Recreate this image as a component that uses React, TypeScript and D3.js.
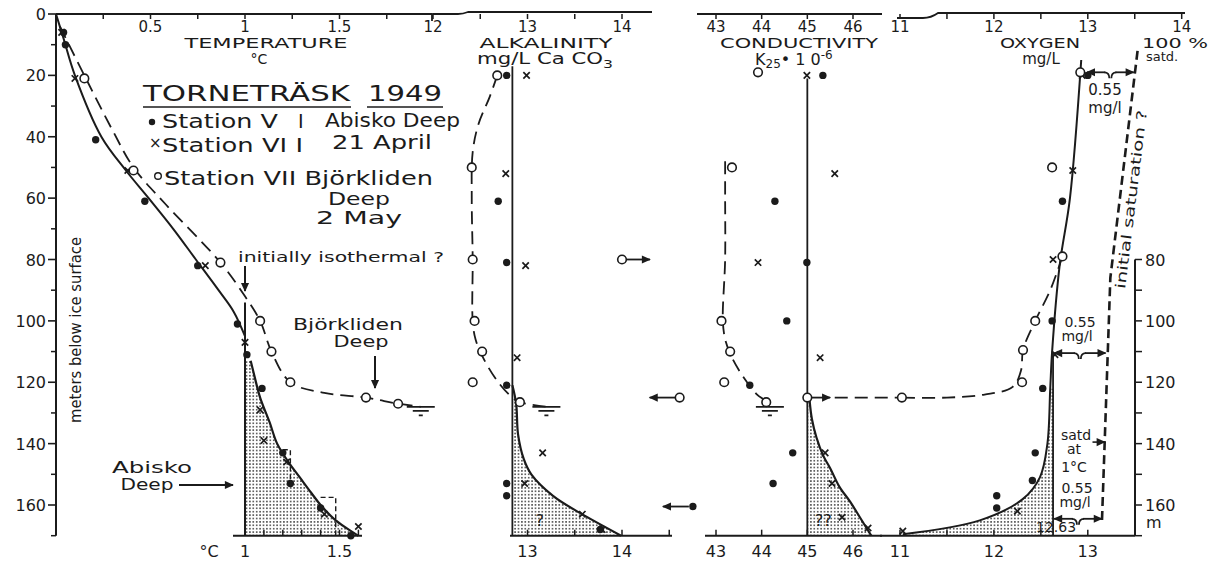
import React from "react";
import * as d3 from "d3";

const width = 1211;
const height = 565;
const ink = "#1b1b1b";
const font = "'DejaVu Sans', 'Liberation Sans', sans-serif";

// depth axis, metres below ice surface
const depthLabels = [0, 20, 40, 60, 80, 100, 120, 140, 160];
const depthMinor = [10, 30, 50, 70, 90, 110, 130, 150, 170];
const oxyDepthTicks = [80, 90, 100, 110, 120, 130, 140, 150, 160, 170];
const oxyDepthLabels = [80, 100, 120, 140, 160];

// tick values for the four panels
const tempTopTicks = [0.25, 0.5, 0.75, 1, 1.25, 1.5, 1.75];
const tempTopLabels = [0.5, 1, 1.5];
const tempBottomTicks = [1, 1.1, 1.2, 1.3, 1.4, 1.5, 1.6];
const alkTopTicks = [12, 12.5, 13, 13.5, 14];
const alkLabels = [12, 13, 14];
const alkBottomTicks = [13, 13.5, 14, 14.5];
const condTicks = [43, 44, 45, 46];
const oxyTopTicks = [11, 11.5, 12, 12.5, 13, 13.5, 14];
const oxyTopLabels = [11, 12, 13, 14];
const oxyBottomTicks = [11, 11.5, 12, 12.5, 13];
const oxyBottomLabels = [11, 12, 13];

// temperature [°C, depth]
const tempStationV = [[0.04, 6], [0.05, 10], [0.21, 41], [0.47, 61], [0.75, 82], [0.96, 101], [1.01, 111], [1.09, 122], [1.2, 143], [1.24, 153], [1.4, 161], [1.56, 170]];
const tempStationVII = [[0.03, 6], [0.1, 21], [0.38, 51], [0.79, 82], [1.0, 107], [1.08, 129], [1.1, 139], [1.22, 146], [1.42, 163], [1.6, 167]];
const tempBjorkliden = [[0.15, 21], [0.41, 51], [0.87, 81], [1.08, 100], [1.14, 110], [1.24, 120], [1.64, 125], [1.81, 127]];
const tempCurveUpper = [[0, 0], [0.04, 8], [0.1, 20], [0.24, 40], [0.37, 51], [0.49, 60], [0.62, 70], [0.74, 80], [0.86, 90], [0.94, 97], [1.0, 105]];
const tempCurveLower = [[1.03, 113], [1.05, 118], [1.08, 125], [1.13, 133], [1.17, 140], [1.23, 146], [1.29, 151], [1.35, 156], [1.4, 160], [1.48, 165], [1.6, 170]];
const tempDashCurve = [[0.02, 4], [0.15, 20], [0.3, 38], [0.41, 50], [0.58, 62], [0.87, 81], [1.0, 92], [1.08, 100], [1.14, 110], [1.24, 120], [1.42, 123.5], [1.64, 125], [1.81, 127], [1.93, 128]];
const tempIsoLine = [[1, 94], [1, 170]];
const tempBoxes = [[[1.2, 142], [1.24, 142], [1.24, 154]], [[1.4, 157.5], [1.48, 157.5], [1.48, 170]]];

// alkalinity [mg/L CaCO3, depth]
const alkStationV = [[12.78, 20], [12.69, 61], [12.78, 81], [12.78, 121], [12.78, 153], [12.78, 157], [13.77, 168]];
const alkStationVII = [[12.99, 20], [12.77, 52], [12.98, 82], [12.89, 112], [13.16, 143], [12.97, 153], [13.58, 163], [13.79, 168]];
const alkBjorkliden = [[12.68, 20], [12.41, 50], [12.42, 80], [12.44, 100], [12.52, 110], [12.42, 120], [12.92, 126.5]];
const alkLine = [[12.84, 17], [12.84, 170]];
const alkCurve = [[12.84, 121], [12.88, 127], [12.9, 137], [12.96, 145], [13.04, 150], [13.27, 157], [13.55, 162.5], [13.99, 170]];
const alkDashCurve = [[12.68, 20], [12.6, 27], [12.48, 36], [12.42, 45], [12.41, 60], [12.42, 80], [12.42, 100], [12.45, 106], [12.53, 112], [12.69, 120], [12.84, 125], [12.92, 126.5], [13.2, 128]];
const alkOffRight = [[14.0, 80]];
const alkOffLeftRing = [[14.61, 125]];
const alkOffLeftDot = [[14.75, 160.5]];

// conductivity [K25 · 10^-6, depth]
const condStationV = [[45.34, 20], [44.29, 61], [44.99, 81], [44.55, 100], [43.74, 121], [44.68, 143], [44.25, 153]];
const condStationVII = [[44.99, 20], [45.6, 52], [43.92, 81], [45.28, 112], [45.39, 143], [45.54, 153], [45.76, 164], [46.33, 167.5]];
const condBjorkliden = [[43.92, 19], [43.35, 50], [43.12, 100], [43.31, 110], [43.18, 120], [44.1, 126.5], [45.0, 125]];
const condLine = [[45, 21], [45, 170]];
const condCurve = [[45.05, 126], [45.1, 132], [45.2, 138], [45.35, 144], [45.5, 148], [45.7, 154], [45.94, 159], [46.15, 164], [46.4, 170]];
const condDashCurve = [[43.2, 48], [43.2, 60], [43.2, 80], [43.15, 100], [43.2, 106], [43.32, 111], [43.5, 116], [43.68, 120], [43.9, 124], [44.07, 126], [44.18, 128]];

// oxygen [mg/L, depth]
const oxyStationV = [[13.0, 20], [12.73, 61], [12.62, 100], [12.52, 122], [12.44, 143], [12.41, 152], [12.03, 157], [12.03, 161]];
const oxyStationVII = [[12.94, 20], [12.84, 51], [12.63, 80], [12.65, 111], [12.25, 162], [11.03, 168.5]];
const oxyBjorkliden = [[12.92, 19], [12.62, 50], [12.73, 79], [12.44, 100], [12.31, 109.5], [12.3, 120], [11.02, 125]];
const oxyCurve = [[12.93, 15], [12.81, 60], [12.7, 82], [12.62, 110], [12.6, 122], [12.57, 140], [12.49, 151], [12.31, 158], [11.85, 165], [11.03, 169.5]];
const oxyLine = [[12.63, 110], [12.63, 170]];
const oxyDashCurve = [[12.73, 79], [12.6, 90], [12.44, 100], [12.31, 109.5], [12.29, 116], [12.2, 121.5], [11.9, 124], [11.5, 125], [11.02, 125]];
const oxySaturation = [[13.53, 12], [13.24, 86], [13.15, 166]];

// scales
const yScale = d3.scaleLinear().domain([0, 160]).range([14, 505]);
const xTemp = d3.scaleLinear().domain([0, 1]).range([56, 245]);
const xAlk = d3.scaleLinear().domain([12, 14]).range([433, 622]);
const xCond = d3.scaleLinear().domain([43, 46]).range([716, 853]);
const xOxy = d3.scaleLinear().domain([11, 14]).range([900, 1181.7]);
const bottomY = yScale(170);

function path(sx, pts, smooth = true) {
  const g = d3.line().x((d) => sx(d[0])).y((d) => yScale(d[1]));
  if (smooth) g.curve(d3.curveCatmullRom.alpha(0.5));
  return g(pts) || "";
}

function Marks({ sx, pts, kind }) {
  return (
    <g>
      {pts.map(([v, d], i) => {
        const cx = sx(v);
        const cy = yScale(d);
        if (kind === "dot") return <circle key={i} cx={cx} cy={cy} r={3.7} fill={ink} />;
        if (kind === "cross")
          return (
            <path
              key={i}
              d={`M${cx - 3.2},${cy - 3.2}L${cx + 3.2},${cy + 3.2}M${cx - 3.2},${cy + 3.2}L${cx + 3.2},${cy - 3.2}`}
              stroke={ink}
              strokeWidth={1.7}
            />
          );
        return <circle key={i} cx={cx} cy={cy} r={4.3} fill="#fff" stroke={ink} strokeWidth={1.6} />;
      })}
    </g>
  );
}

function Ice({ x, y }) {
  return (
    <path
      d={`M${x - 14},${y}H${x + 14}M${x - 8},${y + 4}H${x + 8}M${x - 2},${y + 8.5}H${x + 2}`}
      stroke={ink}
      strokeWidth={1.7}
    />
  );
}

function Brace({ x1, x2, y }) {
  const m = (x1 + x2) / 2;
  return (
    <g stroke={ink} strokeWidth={1.8} fill="none">
      <line x1={m - 5} y1={y} x2={x1 + 1} y2={y} markerEnd="url(#ah)" />
      <line x1={m + 5} y1={y} x2={x2 - 1} y2={y} markerEnd="url(#ah)" />
      <path d={`M${m - 6},${y}Q${m - 1},${y} ${m - 1},${y + 6}M${m + 6},${y}Q${m + 1},${y} ${m + 1},${y + 6}`} />
    </g>
  );
}

function TopAxis({ sx, ticks, labels, y = 14 }) {
  return (
    <g>
      {ticks.map((t) => (
        <line key={t} x1={sx(t)} x2={sx(t)} y1={y} y2={y + 5} stroke={ink} strokeWidth={1.5} />
      ))}
      {labels.map((t) => (
        <text key={t} x={sx(t)} y={32} textAnchor="middle" fontSize={15}>
          {t}
        </text>
      ))}
    </g>
  );
}

function BottomAxis({ sx, x1, x2, ticks, labels }) {
  return (
    <g>
      <line x1={x1} x2={x2} y1={bottomY} y2={bottomY} stroke={ink} strokeWidth={2} />
      {ticks.map((t) => (
        <line key={t} x1={sx(t)} x2={sx(t)} y1={bottomY} y2={bottomY - 6} stroke={ink} strokeWidth={1.5} />
      ))}
      {labels.map((t) => (
        <text key={t} x={sx(t)} y={557} textAnchor="middle" fontSize={16}>
          {t}
        </text>
      ))}
    </g>
  );
}

export default function App() {
  const dash = "13 7";
  const tempStip =
    path(xTemp, tempCurveLower) + `L${xTemp(1)},${bottomY}L${xTemp(1)},${yScale(tempCurveLower[0][1])}Z`;
  const alkStip = path(xAlk, alkCurve) + `L${xAlk(12.84)},${bottomY}Z`;
  const condStip =
    path(xCond, condCurve) + `L${xCond(45)},${bottomY}L${xCond(45)},${yScale(126)}Z`;
  const oxyLower = oxyCurve.slice(4);
  const oxyStip =
    path(xOxy, oxyLower) + `L${xOxy(11.03)},${bottomY}L${xOxy(12.63)},${bottomY}L${xOxy(12.63)},${yScale(122)}Z`;
  const yBridge = yScale(125);

  return (
    <svg
      width={width}
      height={height}
      style={{ position: "absolute", left: 0, top: 0, background: "#fff" }}
      fontFamily={font}
      fill={ink}
    >
      <defs>
        <pattern id="stip" width="3.4" height="3.4" patternUnits="userSpaceOnUse">
          <circle cx="1.7" cy="1.7" r="0.8" fill={ink} />
        </pattern>
        <marker id="ah" viewBox="0 0 10 10" refX="9" refY="5" markerWidth="10" markerHeight="9" markerUnits="userSpaceOnUse" orient="auto">
          <path d="M0,0.5L10,5L0,9.5z" fill={ink} />
        </marker>
      </defs>

      {/* depth axis */}
      <line x1={56} x2={56} y1={yScale(0)} y2={bottomY} stroke={ink} strokeWidth={2} />
      {depthLabels.map((d) => (
        <g key={d}>
          <line x1={48} x2={56} y1={yScale(d)} y2={yScale(d)} stroke={ink} strokeWidth={1.6} />
          <text x={46} y={yScale(d) + 6} textAnchor="end" fontSize={16}>
            {d}
          </text>
        </g>
      ))}
      {depthMinor.map((d) => (
        <line key={d} x1={51} x2={56} y1={yScale(d)} y2={yScale(d)} stroke={ink} strokeWidth={1.5} />
      ))}
      <text transform="translate(81,330) rotate(-90)" textAnchor="middle" fontSize={15} textLength={186} lengthAdjust="spacingAndGlyphs">
        meters below ice surface
      </text>

      {/* top axes */}
      <path d={`M56,14H432V21`} stroke={ink} strokeWidth={1.8} fill="none" />
      <TopAxis sx={xTemp} ticks={tempTopTicks} labels={tempTopLabels} />
      <path d={`M433,14H458Q463,14 468,12H652`} stroke={ink} strokeWidth={1.8} fill="none" />
      <TopAxis sx={xAlk} ticks={alkTopTicks} labels={alkLabels} />
      <line x1={697} x2={882} y1={14} y2={14} stroke={ink} strokeWidth={1.8} />
      <TopAxis sx={xCond} ticks={condTicks} labels={condTicks} />
      <path d={`M897,18H923Q931,18 938,13H1185`} stroke={ink} strokeWidth={1.8} fill="none" />
      <TopAxis sx={xOxy} ticks={oxyTopTicks} labels={oxyTopLabels} />

      {/* bottom axes */}
      <BottomAxis sx={xTemp} x1={233} x2={362} ticks={tempBottomTicks} labels={[1, 1.5]} />
      <text x={209} y={557} textAnchor="middle" fontSize={16}>°C</text>
      <BottomAxis sx={xAlk} x1={510} x2={672} ticks={alkBottomTicks} labels={[13, 14]} />
      <BottomAxis sx={xCond} x1={705} x2={882} ticks={condTicks} labels={condTicks} />
      <BottomAxis sx={xOxy} x1={880} x2={1135} ticks={oxyBottomTicks} labels={oxyBottomLabels} />

      {/* right oxygen depth axis */}
      <line x1={1135} x2={1135} y1={yScale(80)} y2={bottomY} stroke={ink} strokeWidth={2} />
      {oxyDepthTicks.map((d) => (
        <line key={d} x1={1135} x2={1142} y1={yScale(d)} y2={yScale(d)} stroke={ink} strokeWidth={1.5} />
      ))}
      {oxyDepthLabels.map((d) => (
        <text key={d} x={1145} y={yScale(d) + 6} fontSize={16}>
          {d}
        </text>
      ))}
      <text x={1146} y={528} fontSize={16}>m</text>

      {/* stippled regions */}
      <path d={tempStip} fill="url(#stip)" stroke="none" />
      <path d={alkStip} fill="url(#stip)" stroke="none" />
      <path d={condStip} fill="url(#stip)" stroke="none" />
      <path d={oxyStip} fill="url(#stip)" stroke="none" />

      {/* temperature */}
      <path d={path(xTemp, tempCurveUpper)} fill="none" stroke={ink} strokeWidth={2} />
      <path d={path(xTemp, tempCurveLower)} fill="none" stroke={ink} strokeWidth={2.2} />
      <path d={path(xTemp, tempIsoLine, false)} fill="none" stroke={ink} strokeWidth={2} />
      <path d={path(xTemp, tempDashCurve)} fill="none" stroke={ink} strokeWidth={1.8} strokeDasharray={dash} />
      {tempBoxes.map((b, i) => (
        <path key={i} d={path(xTemp, b, false)} fill="none" stroke={ink} strokeWidth={1.4} strokeDasharray="5 3" />
      ))}
      <Ice x={xTemp(1.93)} y={yScale(128)} />
      <Marks sx={xTemp} pts={tempStationV} kind="dot" />
      <Marks sx={xTemp} pts={tempStationVII} kind="cross" />
      <Marks sx={xTemp} pts={tempBjorkliden} kind="ring" />

      {/* alkalinity */}
      <path d={path(xAlk, alkLine, false)} fill="none" stroke={ink} strokeWidth={1.8} />
      <path d={path(xAlk, alkCurve)} fill="none" stroke={ink} strokeWidth={2.2} />
      <path d={path(xAlk, alkDashCurve)} fill="none" stroke={ink} strokeWidth={1.8} strokeDasharray={dash} />
      <Ice x={xAlk(13.2)} y={yScale(128)} />
      <Marks sx={xAlk} pts={alkStationV} kind="dot" />
      <Marks sx={xAlk} pts={alkStationVII} kind="cross" />
      <Marks sx={xAlk} pts={alkBjorkliden} kind="ring" />
      {alkOffRight.map(([v, d], i) => (
        <line key={i} x1={xAlk(v) + 4} x2={xAlk(v) + 28} y1={yScale(d)} y2={yScale(d)} stroke={ink} strokeWidth={1.8} markerEnd="url(#ah)" />
      ))}
      {alkOffLeftRing.concat(alkOffLeftDot).map(([v, d], i) => (
        <line key={i} x1={xAlk(v) - 4} x2={xAlk(v) - 30} y1={yScale(d)} y2={yScale(d)} stroke={ink} strokeWidth={1.8} markerEnd="url(#ah)" />
      ))}
      <Marks sx={xAlk} pts={alkOffRight} kind="ring" />
      <Marks sx={xAlk} pts={alkOffLeftRing} kind="ring" />
      <Marks sx={xAlk} pts={alkOffLeftDot} kind="dot" />
      <text x={xAlk(13.13)} y={yScale(167)} textAnchor="middle" fontSize={16}>?</text>

      {/* conductivity */}
      <path d={path(xCond, condLine, false)} fill="none" stroke={ink} strokeWidth={1.8} />
      <path d={path(xCond, condCurve)} fill="none" stroke={ink} strokeWidth={2.2} />
      <path d={path(xCond, condDashCurve)} fill="none" stroke={ink} strokeWidth={1.8} strokeDasharray={dash} />
      <Ice x={xCond(44.18)} y={yScale(128)} />
      <line x1={xCond(45) + 4} x2={xCond(45.5)} y1={yBridge} y2={yBridge} stroke={ink} strokeWidth={1.8} markerEnd="url(#ah)" />
      <line x1={xCond(45.6)} x2={xOxy(11.02)} y1={yBridge} y2={yBridge} stroke={ink} strokeWidth={1.8} strokeDasharray={dash} />
      <Marks sx={xCond} pts={condStationV} kind="dot" />
      <Marks sx={xCond} pts={condStationVII} kind="cross" />
      <Marks sx={xCond} pts={condBjorkliden} kind="ring" />
      <text x={xCond(45.35)} y={yScale(167)} textAnchor="middle" fontSize={16}>??</text>

      {/* oxygen */}
      <path d={path(xOxy, oxyCurve)} fill="none" stroke={ink} strokeWidth={2} />
      <path d={path(xOxy, oxyLine, false)} fill="none" stroke={ink} strokeWidth={1.8} />
      <path d={path(xOxy, oxyDashCurve)} fill="none" stroke={ink} strokeWidth={1.8} strokeDasharray={dash} />
      <path d={path(xOxy, oxySaturation, false)} fill="none" stroke={ink} strokeWidth={2.6} strokeDasharray="9 5" />
      <Marks sx={xOxy} pts={oxyStationV} kind="dot" />
      <Marks sx={xOxy} pts={oxyStationVII} kind="cross" />
      <Marks sx={xOxy} pts={oxyBjorkliden} kind="ring" />
      <Brace x1={xOxy(12.98)} x2={xOxy(13.5)} y={yScale(19)} />
      <Brace x1={xOxy(12.63)} x2={xOxy(13.2)} y={yScale(110.5)} />
      <Brace x1={xOxy(12.63)} x2={xOxy(13.16)} y={yScale(164.5)} />
      <line x1={xOxy(13.05)} x2={xOxy(13.18)} y1={yScale(139.5)} y2={yScale(139.5)} stroke={ink} strokeWidth={1.6} markerEnd="url(#ah)" />

      {/* panel titles */}
      <text x={266} y={48} textAnchor="middle" fontSize={14} textLength={163} lengthAdjust="spacingAndGlyphs">TEMPERATURE</text>
      <text x={259} y={64} textAnchor="middle" fontSize={14}>°C</text>
      <text x={546} y={48} textAnchor="middle" fontSize={14} textLength={133} lengthAdjust="spacingAndGlyphs">ALKALINITY</text>
      <text x={545} y={64} textAnchor="middle" fontSize={15} textLength={136} lengthAdjust="spacingAndGlyphs">
        mg/L Ca CO<tspan fontSize={11} dy={4}>3</tspan>
      </text>
      <text x={799} y={48} textAnchor="middle" fontSize={14} textLength={158} lengthAdjust="spacingAndGlyphs">CONDUCTIVITY</text>
      <text x={755} y={65} fontSize={16}>
        K<tspan fontSize={12} dy={3}>25</tspan>
        <tspan dy={-3}>• 1 0</tspan>
        <tspan fontSize={12} dy={-6}>-6</tspan>
      </text>
      <text x={1040} y={48} textAnchor="middle" fontSize={14} textLength={80} lengthAdjust="spacingAndGlyphs">OXYGEN</text>
      <text x={1041} y={64} textAnchor="middle" fontSize={15}>mg/L</text>
      <text x={1142} y={48} fontSize={14} textLength={66} lengthAdjust="spacingAndGlyphs">100 %</text>
      <text x={1146} y={61} fontSize={13}>satd.</text>

      {/* legend */}
      <text x={143} y={101} fontSize={22} textLength={207} lengthAdjust="spacingAndGlyphs">TORNETRÄSK</text>
      <text x={368} y={101} fontSize={22} textLength={74} lengthAdjust="spacingAndGlyphs">1949</text>
      <line x1={143} x2={351} y1={107} y2={107} stroke={ink} strokeWidth={1.6} />
      <line x1={367} x2={443} y1={107} y2={107} stroke={ink} strokeWidth={1.6} />
      <circle cx={152} cy={122} r={3.2} fill={ink} />
      <text x={162} y={128} fontSize={19} textLength={116} lengthAdjust="spacingAndGlyphs">Station V</text>
      <text x={298} y={128} fontSize={19}>I</text>
      <text x={325} y={127} fontSize={19} textLength={135} lengthAdjust="spacingAndGlyphs">Abisko Deep</text>
      <text x={149} y={148} fontSize={15}>×</text>
      <text x={162} y={152} fontSize={19} textLength={141} lengthAdjust="spacingAndGlyphs">Station VI I</text>
      <text x={332} y={149} fontSize={19} textLength={100} lengthAdjust="spacingAndGlyphs">21 April</text>
      <circle cx={158} cy={176} r={3.3} fill="#fff" stroke={ink} strokeWidth={1.4} />
      <text x={164} y={185} fontSize={19} textLength={269} lengthAdjust="spacingAndGlyphs">Station VII Björkliden</text>
      <text x={359} y={205} textAnchor="middle" fontSize={18} textLength={62} lengthAdjust="spacingAndGlyphs">Deep</text>
      <text x={359} y={224} textAnchor="middle" fontSize={18} textLength={86} lengthAdjust="spacingAndGlyphs">2 May</text>

      {/* annotations */}
      <text x={238} y={262} fontSize={14} textLength={206} lengthAdjust="spacingAndGlyphs">initially isothermal ?</text>
      <line x1={xTemp(1)} x2={xTemp(1)} y1={266} y2={291} stroke={ink} strokeWidth={2} markerEnd="url(#ah)" />
      <text x={348} y={330} textAnchor="middle" fontSize={16} textLength={110} lengthAdjust="spacingAndGlyphs">Björkliden</text>
      <text x={361} y={347} textAnchor="middle" fontSize={16} textLength={55} lengthAdjust="spacingAndGlyphs">Deep</text>
      <line x1={375} x2={375} y1={356} y2={388} stroke={ink} strokeWidth={2} markerEnd="url(#ah)" />
      <text x={152} y={473} textAnchor="middle" fontSize={16} textLength={80} lengthAdjust="spacingAndGlyphs">Abisko</text>
      <text x={147} y={490} textAnchor="middle" fontSize={16} textLength={53} lengthAdjust="spacingAndGlyphs">Deep</text>
      <line x1={179} x2={233} y1={485} y2={485} stroke={ink} strokeWidth={1.8} markerEnd="url(#ah)" />

      <text x={1105} y={95} textAnchor="middle" fontSize={15}>0.55</text>
      <text x={1105} y={113} textAnchor="middle" fontSize={15}>mg/l</text>
      <text x={1080} y={327} fontSize={14} textAnchor="middle">0.55</text>
      <text x={1077} y={341} fontSize={14} textAnchor="middle">mg/l</text>
      <text x={1076} y={440} fontSize={14} textAnchor="middle">satd</text>
      <text x={1074} y={454} fontSize={14} textAnchor="middle">at</text>
      <text x={1074} y={472} fontSize={14} textAnchor="middle">1°C</text>
      <text x={1077} y={493} fontSize={14} textAnchor="middle">0.55</text>
      <text x={1075} y={507} fontSize={14} textAnchor="middle">mg/l</text>
      <text x={1056} y={532} fontSize={14} textAnchor="middle">12.63</text>
      <text transform="translate(1136,200) rotate(-83)" textAnchor="middle" fontSize={14} textLength={180} lengthAdjust="spacingAndGlyphs">
        initial saturation ?
      </text>
    </svg>
  );
}
